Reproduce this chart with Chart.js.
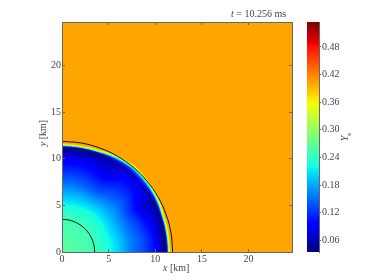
<!DOCTYPE html>
<html>
<head>
<meta charset="utf-8">
<script src="https://cdn.jsdelivr.net/npm/chart.js@4"></script>
<style>
  body { margin: 0; background: #fff; }
  #wrap { position: relative; width: 374px; height: 280px; overflow: hidden; font-family: "Liberation Serif", serif; color: #444; font-size: 10px; }
  canvas { position: absolute; left: 0; top: 0; }
  .lbl { position: absolute; white-space: nowrap; line-height: 12px; }
  .lbl sub { font-size: 7px; line-height: 0; }
</style>
</head>
<body>
<div id="wrap">
  <canvas id="field" width="374" height="280"></canvas>
  <canvas id="bar" width="374" height="280"></canvas>
  <div class="lbl" style="left:231px;top:8px"><i>t</i> = 10.256 ms</div>
  <div class="lbl" style="left:163px;top:262px"><i>x</i> [km]</div>
  <div class="lbl" style="left:43px;top:133px;transform:translate(-50%,-50%) rotate(-90deg)"><i>y</i> [km]</div>
  <div class="lbl" style="left:345px;top:137px;transform:translate(-50%,-50%) rotate(-90deg)"><i>Y</i><sub>e</sub></div>
</div>
<script>
// axis ticks
const xTicks = [0, 5, 10, 15, 20];
const yTicks = [0, 5, 10, 15, 20];
const barTicks = [0.06, 0.12, 0.18, 0.24, 0.30, 0.36, 0.42, 0.48];
const axisMax = 24.65;
const barMin = 0.035;
const barMax = 0.534;

// Ye, one row per angle, one column per radius node
const angles = [0, 10, 20, 30, 40, 50, 60, 70, 80, 90];
const rimRadius = [11.65, 11.65, 11.7, 11.9, 12.05, 12.15, 11.95, 11.7, 11.65, 11.65];
const radiusFrac = [0, 0.3, 0.43, 0.52, 0.63, 0.75, 0.84, 0.92, 0.955, 0.97, 0.985, 1];
const yeTable = [
  [0.268, 0.248, 0.225, 0.2, 0.16, 0.133, 0.107, 0.06, 0.045, 0.13, 0.35, 0.402],
  [0.268, 0.248, 0.225, 0.2, 0.162, 0.135, 0.107, 0.06, 0.045, 0.13, 0.35, 0.402],
  [0.268, 0.248, 0.222, 0.195, 0.157, 0.125, 0.09, 0.06, 0.05, 0.14, 0.35, 0.402],
  [0.268, 0.248, 0.222, 0.19, 0.152, 0.105, 0.07, 0.065, 0.07, 0.17, 0.34, 0.402],
  [0.268, 0.248, 0.222, 0.19, 0.157, 0.125, 0.1, 0.085, 0.12, 0.21, 0.35, 0.402],
  [0.268, 0.248, 0.222, 0.185, 0.147, 0.118, 0.1, 0.075, 0.13, 0.24, 0.34, 0.402],
  [0.268, 0.248, 0.222, 0.185, 0.137, 0.1, 0.07, 0.065, 0.09, 0.19, 0.35, 0.402],
  [0.268, 0.248, 0.222, 0.19, 0.147, 0.112, 0.088, 0.057, 0.05, 0.13, 0.35, 0.402],
  [0.268, 0.248, 0.222, 0.19, 0.153, 0.118, 0.092, 0.057, 0.045, 0.12, 0.35, 0.402],
  [0.268, 0.248, 0.222, 0.19, 0.153, 0.118, 0.092, 0.057, 0.045, 0.12, 0.35, 0.402]
];
const outsideYe = 0.402;

// contour lines
const outerX = [11.86, 11.68, 11.14, 10.27, 9.09, 7.62, 5.93, 4.06, 2.06, 0];
const outerY = [0, 2.06, 4.06, 5.93, 7.62, 9.09, 10.27, 11.14, 11.68, 11.86];
const innerX = [11.15, 10.96, 10.45, 9.62, 8.5, 7.13, 5.55, 3.8, 1.93, 0];
const innerY = [0, 1.93, 3.8, 5.55, 7.13, 8.5, 9.62, 10.45, 10.96, 11.08];
const coreX = [3.5, 3.45, 3.29, 3.03, 2.68, 2.25, 1.75, 1.2, 0.61, 0];
const coreY = [0, 0.61, 1.2, 1.75, 2.25, 2.68, 3.03, 3.29, 3.45, 3.5];

const axisColor = '#666';
const textColor = '#444';
const tickFont = { family: 'Liberation Serif', size: 10 };

function ramp(f, pts) {
  for (let i = 1; i < pts.length; i++) {
    if (f <= pts[i][0]) {
      const t = (f - pts[i - 1][0]) / (pts[i][0] - pts[i - 1][0]);
      return pts[i - 1][1] + t * (pts[i][1] - pts[i - 1][1]);
    }
  }
  return pts[pts.length - 1][1];
}

// matplotlib jet
function jet(v) {
  const f = Math.min(1, Math.max(0, (v - barMin) / (barMax - barMin)));
  return [
    255 * ramp(f, [[0, 0], [0.35, 0], [0.66, 1], [0.89, 1], [1, 0.5]]),
    255 * ramp(f, [[0, 0], [0.125, 0], [0.375, 1], [0.64, 1], [0.91, 0], [1, 0]]),
    255 * ramp(f, [[0, 0.5], [0.11, 1], [0.34, 1], [0.65, 0], [1, 0]])
  ];
}

function yeAt(x, y) {
  const theta = Math.atan2(y, x) * 180 / Math.PI;
  const a = Math.min(angles.length - 1.001, theta / 10);
  const i = Math.floor(a), ta = a - i;
  const rim = rimRadius[i] * (1 - ta) + rimRadius[i + 1] * ta;
  const q = Math.hypot(x, y) / rim;
  if (q >= 1) return outsideYe;
  let j = 0;
  while (radiusFrac[j + 1] < q) j++;
  const tr = (q - radiusFrac[j]) / (radiusFrac[j + 1] - radiusFrac[j]);
  const v0 = yeTable[i][j] * (1 - tr) + yeTable[i][j + 1] * tr;
  const v1 = yeTable[i + 1][j] * (1 - tr) + yeTable[i + 1][j + 1] * tr;
  return v0 * (1 - ta) + v1 * ta;
}

const fieldPlugin = {
  id: 'fieldPlugin',
  beforeDatasetsDraw(chart) {
    const { ctx, chartArea: a, scales } = chart;
    const w = Math.round(a.right - a.left), h = Math.round(a.bottom - a.top);
    const img = ctx.createImageData(w, h);
    for (let py = 0; py < h; py++) {
      for (let px = 0; px < w; px++) {
        const x = scales.x.getValueForPixel(a.left + px + 0.5);
        const y = scales.y.getValueForPixel(a.top + py + 0.5);
        const c = jet(yeAt(x, y));
        const k = (py * w + px) * 4;
        img.data[k] = c[0];
        img.data[k + 1] = c[1];
        img.data[k + 2] = c[2];
        img.data[k + 3] = 255;
      }
    }
    ctx.putImageData(img, Math.round(a.left), Math.round(a.top));
  }
};

const barPlugin = {
  id: 'barPlugin',
  beforeDatasetsDraw(chart) {
    const { ctx, chartArea: a, scales } = chart;
    for (let py = Math.round(a.top); py < a.bottom; py++) {
      const c = jet(scales.y.getValueForPixel(py + 0.5));
      ctx.fillStyle = `rgb(${c[0]},${c[1]},${c[2]})`;
      ctx.fillRect(a.left, py, a.right - a.left, 1);
    }
  }
};

function contour(xs, ys) {
  return {
    data: xs.map((x, i) => ({ x: x, y: ys[i] })),
    showLine: true,
    borderColor: '#111',
    borderWidth: 1,
    pointRadius: 0,
    tension: 0.4
  };
}

function fixedTicks(list) {
  return scale => { scale.ticks = list.map(v => ({ value: v })); };
}

function axis(position, list, min, max, showLabels, size) {
  const horizontal = position === 'bottom' || position === 'top';
  return {
    type: 'linear',
    position: position,
    min: min,
    max: max,
    afterBuildTicks: fixedTicks(list),
    afterFit: scale => { if (horizontal) scale.height = size; else scale.width = size; },
    grid: { drawOnChartArea: false, drawTicks: true, tickLength: -3, tickColor: axisColor, z: 1 },
    border: { display: true, color: axisColor, width: 1, z: 1 },
    ticks: {
      display: showLabels,
      autoSkip: false,
      maxRotation: 0,
      color: textColor,
      font: tickFont,
      padding: 4,
      callback: v => String(v)
    }
  };
}

new Chart(document.getElementById('field'), {
  type: 'scatter',
  data: {
    datasets: [contour(outerX, outerY), contour(innerX, innerY), contour(coreX, coreY)]
  },
  plugins: [fieldPlugin],
  options: {
    responsive: false,
    animation: false,
    devicePixelRatio: 1,
    layout: { padding: { left: 0, right: 82, top: 22, bottom: 0 } },
    plugins: { legend: { display: false }, tooltip: { enabled: false } },
    scales: {
      x: axis('bottom', xTicks, 0, axisMax, true, 28),
      y: axis('left', yTicks, 0, axisMax, true, 62),
      xTop: axis('top', xTicks, 0, axisMax, false, 0),
      yRight: axis('right', yTicks, 0, axisMax, false, 0)
    }
  }
});

const barY = axis('right', barTicks, barMin, barMax, true, 55);
barY.ticks.callback = v => v.toFixed(2);
barY.ticks.padding = 1;
barY.grid.tickLength = 2;

new Chart(document.getElementById('bar'), {
  type: 'scatter',
  data: { datasets: [{ data: [] }] },
  plugins: [barPlugin],
  options: {
    responsive: false,
    animation: false,
    devicePixelRatio: 1,
    layout: { padding: { left: 307, right: 0, top: 22, bottom: 28 } },
    plugins: { legend: { display: false }, tooltip: { enabled: false } },
    scales: {
      x: { display: false, min: 0, max: 1 },
      y: barY
    }
  }
});
</script>
</body>
</html>
